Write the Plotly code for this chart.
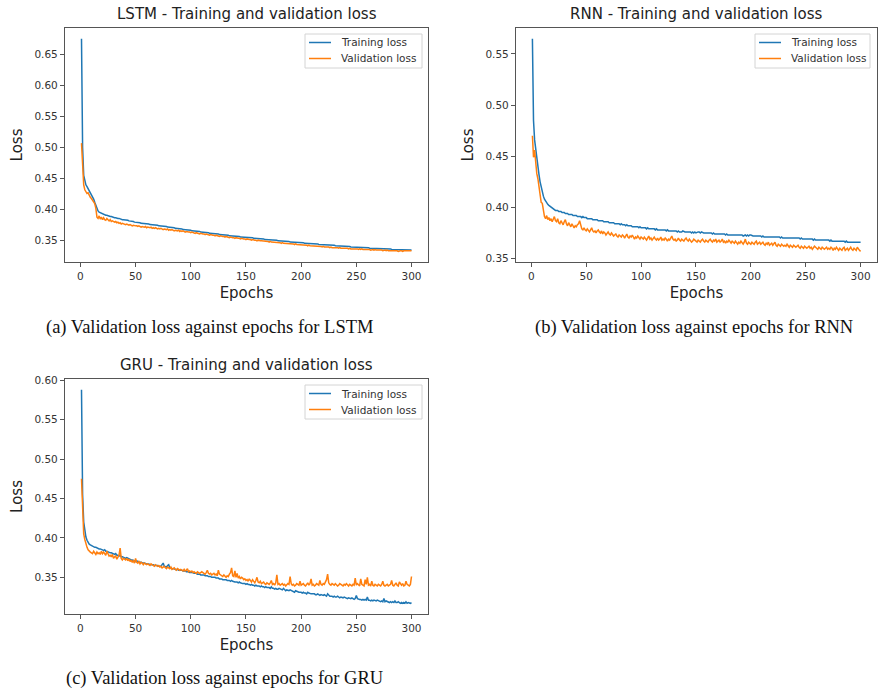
import plotly.graph_objects as go

# ---------------- data ----------------
epochs = list(range(1, 301))

lstm_train = [
    .675, .500, .455, .444, .440, .437, .434, .431, .428, .425,
    .421, .417, .412, .406, .401, .398, .396, .395, .394, .393,
    .392, .392, .391, .391, .390, .390, .389, .389, .388, .388,
    .387, .387, .386, .386, .386, .385, .385, .384, .384, .384,
    .383, .383, .383, .382, .382, .381, .381, .381, .380, .380,
    .380, .379, .379, .379, .378, .378, .378, .378, .377, .377,
    .377, .377, .376, .376, .376, .376, .375, .375, .375, .375,
    .374, .374, .374, .374, .373, .373, .373, .373, .372, .372,
    .372, .372, .371, .371, .371, .370, .370, .370, .370, .369,
    .369, .369, .368, .368, .368, .368, .367, .367, .367, .367,
    .366, .366, .366, .366, .365, .365, .365, .365, .364, .364,
    .364, .364, .363, .363, .363, .363, .362, .362, .362, .362,
    .362, .361, .361, .361, .361, .360, .360, .360, .360, .360,
    .359, .359, .359, .359, .358, .358, .358, .358, .358, .357,
    .357, .357, .357, .357, .356, .356, .356, .356, .356, .356,
    .355, .355, .355, .355, .355, .355, .354, .354, .354, .354,
    .354, .353, .353, .353, .353, .353, .352, .352, .352, .352,
    .352, .352, .351, .351, .351, .351, .351, .351, .350, .350,
    .350, .350, .350, .349, .349, .349, .349, .349, .349, .348,
    .348, .348, .348, .348, .348, .347, .347, .347, .347, .347,
    .347, .347, .346, .346, .346, .346, .346, .346, .346, .345,
    .345, .345, .345, .345, .345, .344, .344, .344, .344, .344,
    .344, .344, .344, .343, .343, .343, .343, .343, .343, .343,
    .342, .342, .342, .342, .342, .342, .341, .341, .341, .341,
    .341, .341, .341, .341, .340, .340, .340, .340, .340, .340,
    .340, .340, .339, .339, .339, .339, .339, .339, .339, .339,
    .339, .338, .338, .338, .338, .338, .338, .338, .338, .338,
    .337, .337, .337, .337, .337, .337, .337, .337, .337, .337,
    .337, .336, .336, .336, .336, .336, .336, .336, .336, .336,
    .336, .336, .336, .335, .335, .335, .335, .336, .335, .335,
]

lstm_val = [
    .507, .458, .440, .432, .428, .426, .427, .422, .420, .418,
    .415, .412, .410, .402, .388, .386, .390, .385, .388, .384,
    .387, .384, .383, .386, .383, .382, .384, .381, .382, .381,
    .380, .381, .379, .380, .378, .379, .377, .378, .377, .377,
    .376, .377, .376, .375, .376, .375, .374, .375, .374, .374,
    .374, .373, .374, .373, .372, .373, .372, .372, .373, .371,
    .372, .371, .371, .372, .370, .371, .370, .371, .370, .369,
    .370, .369, .370, .369, .368, .369, .368, .368, .369, .367,
    .368, .367, .368, .367, .366, .367, .366, .366, .367, .365,
    .366, .365, .366, .365, .364, .365, .364, .364, .364, .363,
    .364, .363, .363, .362, .363, .362, .362, .361, .362, .361,
    .361, .361, .360, .361, .360, .360, .359, .360, .359, .359,
    .359, .358, .359, .358, .358, .357, .358, .357, .357, .357,
    .356, .357, .356, .356, .355, .356, .355, .355, .355, .354,
    .355, .354, .354, .354, .353, .354, .353, .353, .353, .352,
    .353, .352, .352, .352, .351, .352, .351, .351, .351, .350,
    .351, .350, .350, .350, .350, .349, .350, .349, .349, .349,
    .348, .349, .348, .348, .348, .347, .348, .347, .347, .347,
    .347, .346, .347, .346, .346, .346, .346, .345, .346, .345,
    .345, .345, .345, .344, .345, .344, .344, .344, .344, .343,
    .344, .343, .343, .343, .343, .342, .343, .342, .342, .342,
    .342, .342, .341, .342, .341, .341, .341, .341, .340, .341,
    .340, .340, .341, .340, .340, .339, .340, .339, .339, .340,
    .339, .339, .339, .338, .339, .338, .338, .339, .338, .338,
    .338, .338, .337, .338, .337, .337, .338, .337, .337, .337,
    .337, .336, .337, .336, .337, .336, .336, .336, .337, .336,
    .336, .336, .335, .336, .336, .335, .336, .335, .335, .336,
    .335, .335, .335, .334, .335, .335, .334, .335, .334, .334,
    .335, .334, .334, .334, .335, .334, .334, .333, .334, .334,
    .334, .333, .334, .334, .333, .334, .333, .334, .333, .334,
]

rnn_train = [
    .565, .485, .466, .456, .447, .439, .432, .425, .419, .414,
    .411, .408, .406, .404, .403, .402, .401, .400, .399, .398,
    .398, .397, .397, .397, .396, .396, .396, .395, .395, .395,
    .394, .394, .394, .393, .393, .393, .393, .392, .392, .392,
    .392, .391, .391, .391, .391, .390, .391, .390, .390, .390,
    .389, .389, .389, .389, .389, .388, .388, .388, .388, .388,
    .387, .387, .387, .387, .387, .386, .386, .386, .386, .386,
    .385, .385, .385, .385, .385, .384, .384, .384, .384, .384,
    .383, .384, .383, .383, .383, .382, .383, .382, .382, .382,
    .382, .381, .381, .381, .381, .381, .381, .380, .381, .380,
    .380, .380, .380, .380, .379, .380, .379, .379, .379, .379,
    .379, .379, .378, .379, .378, .378, .378, .378, .378, .378,
    .378, .378, .377, .378, .377, .377, .377, .377, .377, .377,
    .377, .377, .376, .377, .376, .376, .376, .377, .376, .376,
    .376, .376, .376, .376, .376, .375, .376, .375, .376, .375,
    .376, .376, .376, .375, .376, .375, .375, .375, .375, .375,
    .375, .375, .375, .375, .374, .375, .374, .374, .374, .374,
    .374, .374, .374, .374, .374, .374, .373, .374, .373, .373,
    .373, .373, .373, .373, .373, .373, .373, .373, .373, .373,
    .373, .373, .372, .373, .373, .372, .373, .372, .373, .373,
    .372, .372, .372, .372, .372, .372, .372, .372, .372, .371,
    .372, .371, .371, .371, .371, .371, .371, .371, .371, .371,
    .371, .371, .371, .371, .371, .371, .370, .371, .370, .370,
    .370, .370, .370, .370, .370, .370, .370, .370, .370, .370,
    .370, .370, .370, .370, .369, .370, .369, .369, .369, .369,
    .369, .369, .369, .369, .369, .369, .368, .369, .368, .368,
    .368, .368, .368, .368, .368, .368, .368, .368, .368, .368,
    .368, .367, .368, .367, .367, .367, .367, .367, .367, .367,
    .367, .367, .367, .367, .367, .366, .367, .366, .366, .366,
    .366, .366, .366, .366, .366, .366, .366, .366, .366, .366,
]

rnn_val = [
    .470, .449, .456, .441, .433, .428, .421, .412, .405, .404,
    .396, .391, .389, .392, .388, .390, .387, .389, .386, .388,
    .391, .387, .386, .389, .385, .384, .387, .385, .383, .386,
    .388, .384, .382, .385, .383, .381, .384, .382, .380, .382,
    .381, .383, .384, .387, .381, .379, .378, .380, .378, .377,
    .379, .378, .376, .378, .380, .377, .376, .377, .375, .377,
    .378, .376, .375, .377, .374, .376, .375, .373, .375, .376,
    .374, .373, .375, .374, .372, .373, .374, .372, .371, .373,
    .372, .371, .373, .372, .370, .372, .374, .371, .370, .372,
    .371, .373, .371, .369, .371, .370, .372, .370, .369, .371,
    .370, .369, .371, .370, .368, .370, .372, .369, .370, .368,
    .369, .371, .369, .368, .370, .368, .369, .371, .368, .369,
    .368, .370, .369, .367, .369, .368, .370, .372, .369, .368,
    .369, .367, .368, .370, .368, .367, .369, .368, .367, .369,
    .370, .368, .367, .369, .368, .366, .367, .369, .368, .367,
    .366, .368, .367, .366, .368, .369, .367, .366, .368, .367,
    .366, .368, .369, .367, .366, .368, .367, .369, .366, .367,
    .368, .366, .367, .369, .366, .367, .365, .367, .366, .368,
    .366, .365, .367, .366, .365, .367, .366, .364, .366, .365,
    .367, .365, .364, .366, .369, .365, .364, .366, .365, .364,
    .366, .365, .364, .366, .367, .364, .365, .366, .364, .365,
    .366, .364, .363, .365, .364, .366, .363, .364, .365, .363,
    .364, .366, .363, .362, .364, .363, .362, .364, .363, .362,
    .363, .362, .364, .362, .361, .363, .362, .361, .363, .362,
    .361, .362, .363, .361, .360, .362, .361, .360, .362, .361,
    .360, .361, .362, .360, .361, .359, .360, .362, .361, .360,
    .359, .361, .360, .359, .361, .360, .359, .360, .361, .359,
    .360, .359, .361, .360, .358, .360, .359, .361, .359, .358,
    .360, .359, .358, .360, .361, .358, .359, .360, .358, .359,
    .361, .359, .358, .360, .359, .358, .361, .359, .358, .357,
]

gru_train = [
    .588, .455, .420, .407, .401, .397, .394, .392, .391, .390,
    .389, .389, .388, .388, .387, .387, .386, .386, .385, .385,
    .384, .385, .383, .383, .382, .382, .381, .381, .380, .380,
    .379, .380, .378, .378, .377, .378, .376, .376, .375, .375,
    .374, .375, .374, .373, .373, .372, .372, .371, .371, .370,
    .371, .370, .369, .369, .369, .368, .368, .368, .367, .367,
    .367, .367, .366, .366, .366, .366, .365, .365, .365, .365,
    .364, .364, .364, .366, .368, .364, .363, .363, .365, .366,
    .362, .362, .361, .361, .361, .360, .360, .360, .359, .359,
    .359, .359, .358, .358, .358, .357, .357, .357, .356, .356,
    .356, .356, .355, .355, .355, .354, .354, .354, .353, .353,
    .353, .353, .352, .352, .352, .351, .351, .351, .350, .350,
    .350, .350, .349, .349, .349, .348, .348, .348, .347, .347,
    .347, .347, .346, .346, .346, .345, .346, .345, .344, .344,
    .344, .344, .343, .344, .343, .342, .342, .342, .342, .341,
    .342, .341, .341, .340, .341, .340, .340, .339, .340, .339,
    .339, .339, .338, .339, .338, .338, .337, .338, .337, .337,
    .337, .336, .338, .336, .336, .335, .336, .335, .335, .336,
    .335, .334, .334, .336, .334, .333, .334, .333, .333, .334,
    .333, .332, .332, .331, .333, .332, .331, .331, .331, .331,
    .330, .331, .330, .330, .329, .331, .330, .329, .329, .329,
    .329, .329, .328, .328, .329, .328, .327, .328, .327, .327,
    .328, .327, .326, .329, .327, .326, .326, .326, .325, .326,
    .325, .325, .326, .325, .324, .325, .324, .324, .325, .324,
    .324, .323, .324, .323, .323, .324, .323, .322, .323, .327,
    .323, .322, .322, .322, .321, .322, .321, .322, .321, .325,
    .321, .321, .320, .321, .320, .321, .320, .320, .321, .320,
    .320, .319, .320, .319, .323, .319, .320, .319, .319, .318,
    .319, .318, .319, .318, .320, .318, .318, .319, .318, .317,
    .318, .317, .318, .317, .319, .317, .318, .317, .317, .318,
]

gru_val = [
    .475, .430, .405, .398, .392, .388, .385, .383, .382, .381,
    .380, .383, .381, .379, .382, .380, .381, .379, .383, .380,
    .382, .379, .378, .383, .380, .377, .378, .376, .379, .374,
    .376, .377, .373, .375, .378, .387, .374, .372, .374, .373,
    .372, .374, .371, .373, .370, .372, .369, .371, .368, .374,
    .369, .368, .370, .367, .369, .368, .366, .368, .367, .366,
    .367, .366, .365, .367, .366, .365, .364, .366, .365, .364,
    .365, .363, .364, .362, .363, .364, .362, .361, .363, .362,
    .361, .363, .360, .361, .362, .360, .359, .361, .360, .359,
    .360, .359, .358, .360, .358, .359, .361, .357, .358, .357,
    .358, .356, .357, .356, .355, .357, .356, .355, .356, .357,
    .356, .355, .354, .356, .359, .355, .354, .355, .353, .354,
    .355, .353, .354, .352, .359, .354, .353, .352, .351, .353,
    .352, .350, .352, .351, .354, .356, .362, .352, .351, .358,
    .350, .355, .349, .351, .348, .350, .349, .347, .348, .346,
    .347, .345, .348, .346, .344, .347, .345, .343, .346, .350,
    .344, .343, .345, .342, .343, .344, .342, .341, .343, .342,
    .341, .343, .346, .341, .342, .340, .343, .353, .341, .342,
    .340, .341, .342, .340, .341, .339, .340, .342, .341, .351,
    .342, .340, .341, .339, .340, .342, .341, .340, .345, .340,
    .341, .342, .340, .339, .341, .343, .340, .342, .348, .340,
    .341, .339, .340, .342, .341, .340, .346, .341, .340, .342,
    .341, .344, .347, .354, .343, .341, .340, .342, .341, .340,
    .342, .341, .339, .340, .342, .341, .340, .339, .341, .340,
    .342, .340, .339, .341, .340, .339, .341, .340, .349, .340,
    .342, .340, .339, .348, .341, .340, .339, .347, .341, .350,
    .340, .341, .339, .345, .340, .339, .341, .340, .339, .341,
    .340, .339, .341, .345, .340, .339, .340, .341, .339, .340,
    .341, .346, .340, .339, .341, .343, .340, .339, .344, .341,
    .340, .342, .339, .340, .345, .341, .340, .339, .341, .351,
]

x_ticks = [0, 50, 100, 150, 200, 250, 300]
lstm_yticks = [0.35, 0.40, 0.45, 0.50, 0.55, 0.60, 0.65]
rnn_yticks = [0.35, 0.40, 0.45, 0.50, 0.55]
gru_yticks = [0.35, 0.40, 0.45, 0.50, 0.55, 0.60]

titles = ["LSTM - Training and validation loss",
          "RNN - Training and validation loss",
          "GRU - Training and validation loss"]
captions = ["(a) Validation loss against epochs for LSTM",
            "(b) Validation loss against epochs for RNN",
            "(c) Validation loss against epochs for GRU"]
series_names = ["Training loss", "Validation loss"]

# ---------------- layout ----------------
W, H = 878, 692
BLUE, ORANGE = "#1f77b4", "#ff7f0e"
SANS = "DejaVu Sans"
SERIF = "Liberation Serif"


def fx(p):
    return p / W


def fy(p):
    return 1 - p / H


panels = [
    dict(train=lstm_train, val=lstm_val, yt=lstm_yticks, box=(65, 28, 428, 262),
         leg=(305, 34, 422, 68), cap=(209, 327)),
    dict(train=rnn_train, val=rnn_val, yt=rnn_yticks, box=(516, 28, 877, 262),
         leg=(755, 34, 870, 68), cap=(694, 327)),
    dict(train=gru_train, val=gru_val, yt=gru_yticks, box=(65, 379, 428, 614),
         leg=(305, 385, 422, 419), cap=(224, 678)),
]

fig = go.Figure()
annotations = []
shapes = []
layout = dict(
    width=W, height=H,
    margin=dict(l=0, r=0, t=0, b=0),
    paper_bgcolor="white", plot_bgcolor="white",
    font=dict(family=SANS, color="#333"),
    showlegend=False,
)

for i, p in enumerate(panels):
    n = "" if i == 0 else str(i + 1)
    xa, ya = "x" + n, "y" + n
    fig.add_trace(go.Scatter(x=epochs, y=p["train"], mode="lines", name=series_names[0],
                             line=dict(color=BLUE, width=1.5), xaxis=xa, yaxis=ya))
    fig.add_trace(go.Scatter(x=epochs, y=p["val"], mode="lines", name=series_names[1],
                             line=dict(color=ORANGE, width=1.5), xaxis=xa, yaxis=ya))
    allv = p["train"] + p["val"]
    lo, hi = min(allv), max(allv)
    pad = 0.05 * (hi - lo)
    xpad = 0.05 * (epochs[-1] - epochs[0])
    l, t, r, b = p["box"]
    axis_common = dict(showline=True, mirror=True, linecolor="#555", linewidth=1.2,
                       ticks="outside", ticklen=4, tickcolor="#555", showgrid=False,
                       zeroline=False, automargin=False,
                       tickfont=dict(size=10.5, color="#333", family=SANS))
    layout["xaxis" + n] = dict(axis_common, domain=[fx(l), fx(r)], anchor=ya,
                               range=[epochs[0] - xpad, epochs[-1] + xpad],
                               tickvals=x_ticks,
                               title=dict(text="Epochs", font=dict(size=15, color="#222"), standoff=6))
    layout["yaxis" + n] = dict(axis_common, domain=[fy(b), fy(t)], anchor=xa,
                               range=[lo - pad, hi + pad], tickvals=p["yt"], tickformat=".2f",
                               title=dict(text="Loss", font=dict(size=15, color="#222"), standoff=8))
    # legend (box, sample lines, labels)
    ll, lt, lr, lb = p["leg"]
    shapes.append(dict(type="rect", xref="paper", yref="paper", x0=fx(ll), x1=fx(lr),
                       y0=fy(lb), y1=fy(lt), line=dict(color="#d4d4d4", width=1),
                       fillcolor="rgba(255,255,255,0.85)", layer="above"))
    for k, (nm, col) in enumerate(zip(series_names, [BLUE, ORANGE])):
        yy = lt + 8.5 + 16 * k
        shapes.append(dict(type="line", xref="paper", yref="paper", x0=fx(ll + 4), x1=fx(ll + 26),
                           y0=fy(yy), y1=fy(yy), line=dict(color=col, width=1.5), layer="above"))
        annotations.append(dict(text=nm, x=fx(ll + 34), y=fy(yy), xref="paper", yref="paper",
                                showarrow=False, xanchor="left", yanchor="middle",
                                font=dict(size=10.5, color="#333", family=SANS)))
    annotations.append(dict(text=titles[i], x=fx((l + r) / 2), y=fy(t - 14), xref="paper", yref="paper",
                            showarrow=False, xanchor="center", yanchor="middle",
                            font=dict(size=15, color="#222", family=SANS)))
    annotations.append(dict(text=captions[i], x=fx(p["cap"][0]), y=fy(p["cap"][1]), xref="paper",
                            yref="paper", showarrow=False, xanchor="center", yanchor="middle",
                            font=dict(size=18.5, color="#111", family=SERIF)))

layout["annotations"] = annotations
layout["shapes"] = shapes
fig.update_layout(**layout)
fig.write_html("out.html", config={"displayModeBar": False},
               post_script="document.body.style.margin='0';document.body.style.overflow='hidden';")
